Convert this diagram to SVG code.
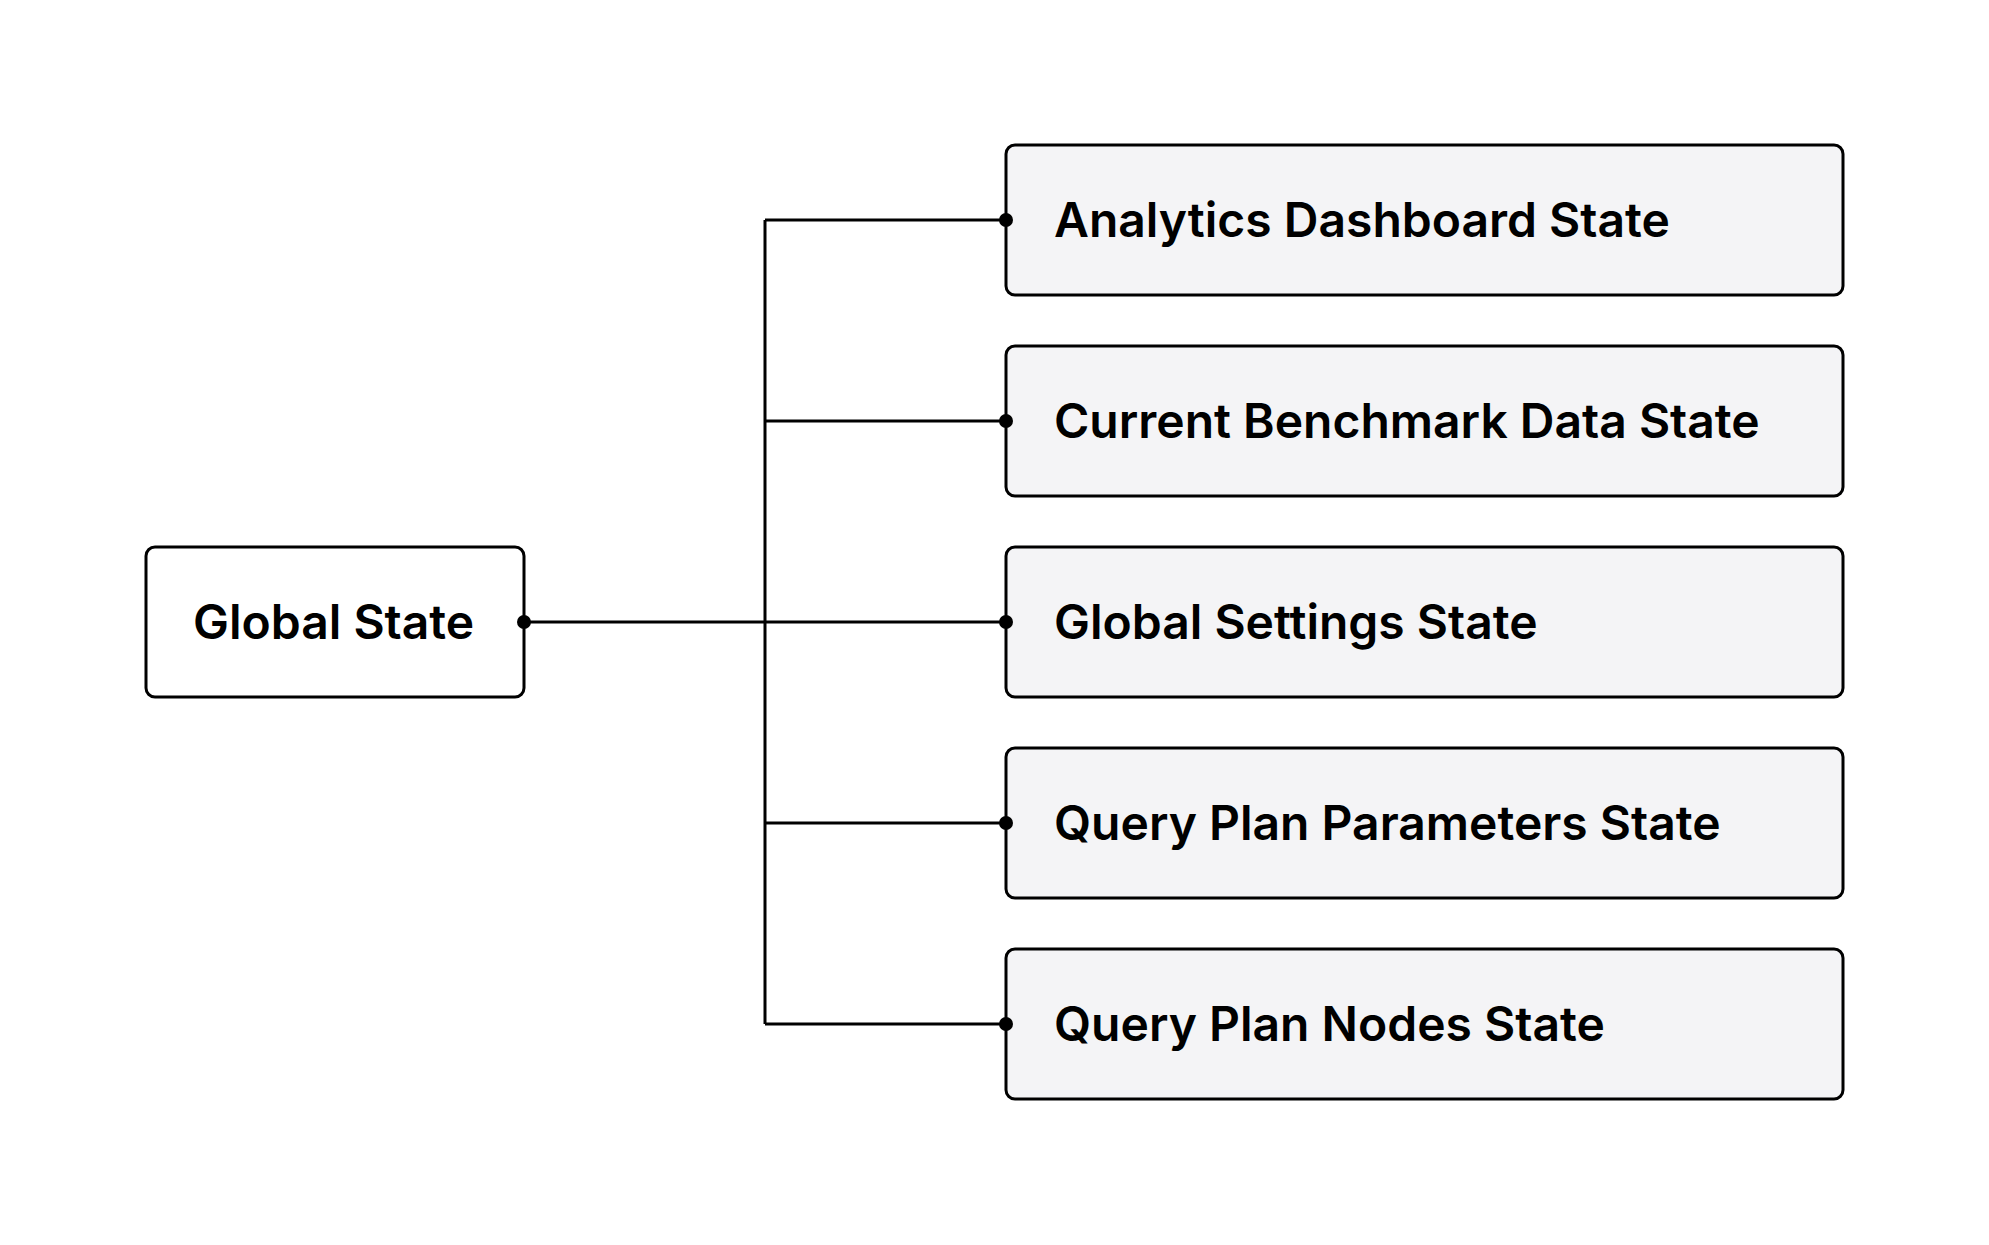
<svg xmlns="http://www.w3.org/2000/svg" width="1989" height="1245" viewBox="0 0 1989 1245">
<style>
.box{fill:#f4f4f6;stroke:#000;stroke-width:3}
.root{fill:#ffffff;stroke:#000;stroke-width:3}
.lbl{font-family:Inter,"Liberation Sans",sans-serif;font-weight:600;font-size:48px;fill:#000}
.edge{fill:none;stroke:#000;stroke-width:3}
.dot{fill:#000}
</style>
<rect width="1989" height="1245" fill="#ffffff"/>
<g id="global-state">
<rect class="root" x="146" y="547" width="378" height="150" rx="9"/>
<text class="lbl" x="193" y="639">Global State</text>
</g>
<g id="analytics-dashboard-state">
<rect class="box" x="1006" y="145" width="837" height="150" rx="9"/>
<text class="lbl" x="1054" y="237">Analytics Dashboard State</text>
</g>
<g id="current-benchmark-data-state">
<rect class="box" x="1006" y="346" width="837" height="150" rx="9"/>
<text class="lbl" x="1054" y="438">Current Benchmark Data State</text>
</g>
<g id="global-settings-state">
<rect class="box" x="1006" y="547" width="837" height="150" rx="9"/>
<text class="lbl" x="1054" y="639">Global Settings State</text>
</g>
<g id="query-plan-parameters-state">
<rect class="box" x="1006" y="748" width="837" height="150" rx="9"/>
<text class="lbl" x="1054" y="840">Query Plan Parameters State</text>
</g>
<g id="query-plan-nodes-state">
<rect class="box" x="1006" y="949" width="837" height="150" rx="9"/>
<text class="lbl" x="1054" y="1041">Query Plan Nodes State</text>
</g>
<g id="connectors">
<path class="edge" d="M524 622 H1006"/>
<path class="edge" d="M765 220 V1024"/>
<path class="edge" d="M765 220 H1006"/>
<path class="edge" d="M765 421 H1006"/>
<path class="edge" d="M765 823 H1006"/>
<path class="edge" d="M765 1024 H1006"/>
<circle class="dot" cx="524" cy="622" r="7"/>
<circle class="dot" cx="1006" cy="220" r="7"/>
<circle class="dot" cx="1006" cy="421" r="7"/>
<circle class="dot" cx="1006" cy="622" r="7"/>
<circle class="dot" cx="1006" cy="823" r="7"/>
<circle class="dot" cx="1006" cy="1024" r="7"/>
</g>
</svg>
